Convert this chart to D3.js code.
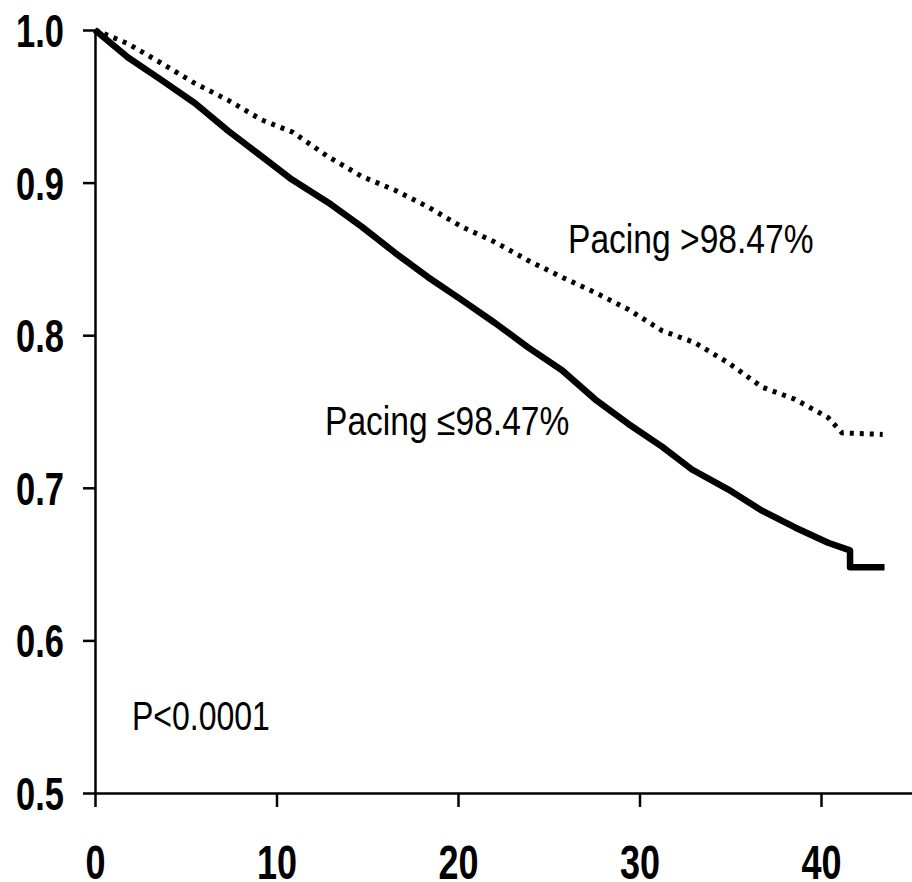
<!DOCTYPE html>
<html>
<head>
  <meta charset="utf-8">
  <title>Survival by pacing</title>
  <script src="https://d3js.org/d3.v7.min.js"></script>
  <style>
    body { margin: 0; background: #fff; }
    text { font-family: "Liberation Sans", Arial, sans-serif; fill: #000; }
  </style>
</head>
<body>
<script type="text/javascript">
  var w = 912;
  var h = 882;

  // months of follow-up (x) and survival (y)
  var lowTime = [0, 1.82, 3.69, 5.51, 7.33, 9.2, 10.85, 12.84, 14.71, 16.53, 18.35, 20.22, 22.04, 23.86, 25.73, 27.55, 29.37, 31.24, 32.89, 34.88, 36.75, 38.57, 40.39, 41.6, 41.6, 43.5];
  var lowSurv = [1.0, 0.982, 0.967, 0.952, 0.934, 0.917, 0.902, 0.887, 0.871, 0.854, 0.838, 0.823, 0.808, 0.792, 0.777, 0.758, 0.742, 0.727, 0.712, 0.699, 0.685, 0.674, 0.664, 0.659, 0.648, 0.648];

  var highTime = [0, 1.82, 3.69, 5.51, 7.33, 9.2, 10.9, 12.84, 14.71, 16.53, 18.35, 20.22, 22.04, 23.86, 25.73, 27.55, 29.37, 31.24, 33.06, 34.88, 36.75, 38.57, 40.39, 41.16, 43.4];
  var highSurv = [1.0, 0.991, 0.978, 0.965, 0.954, 0.941, 0.933, 0.917, 0.904, 0.895, 0.884, 0.871, 0.861, 0.849, 0.838, 0.828, 0.817, 0.803, 0.795, 0.782, 0.766, 0.758, 0.746, 0.736, 0.735];

  var xTicks = [0, 10, 20, 30, 40];
  var yTicks = [0.5, 0.6, 0.7, 0.8, 0.9, 1.0];

  var narrow = 0.75; // the reference font is a condensed face

  var svg = d3.select("body").append("svg")
    .attr("width", w)
    .attr("height", h);

  var x = d3.scaleLinear().domain([0, 45]).range([95, 95 + 45 * 18.15]);
  var y = d3.scaleLinear().domain([0.5, 1.0]).range([793, 30]);

  // y axis
  var yAxis = svg.append("g")
    .attr("transform", "translate(95,0)")
    .call(d3.axisLeft(y).tickValues(yTicks).tickFormat(d3.format(".1f"))
      .tickSize(12).tickSizeOuter(0).tickPadding(19));
  yAxis.selectAll("path, line").attr("stroke", "#000").attr("stroke-width", 2.5);
  yAxis.selectAll("text")
    .style("font-size", "46px").style("font-weight", "bold")
    .attr("x", -31 / narrow)
    .attr("dy", "0.36em")
    .attr("transform", "scale(" + narrow + ",1)");

  // x axis
  var xAxis = svg.append("g")
    .attr("transform", "translate(0,793)")
    .call(d3.axisBottom(x).tickValues(xTicks)
      .tickSize(14).tickSizeOuter(0).tickPadding(38));
  xAxis.selectAll("path, line").attr("stroke", "#000").attr("stroke-width", 2.5);
  xAxis.selectAll("text")
    .style("font-size", "48px").style("font-weight", "bold")
    .attr("transform", "scale(" + narrow + ",1)");

  var line = d3.line()
    .x(function(d){ return x(d[0]); })
    .y(function(d){ return y(d[1]); });

  var low = lowTime.map(function(t, i){ return [t, lowSurv[i]]; });
  var high = highTime.map(function(t, i){ return [t, highSurv[i]]; });

  // pacing > 98.47% dotted
  svg.append("path")
    .datum(high)
    .attr("d", line)
    .attr("fill", "none")
    .attr("stroke", "#000")
    .attr("stroke-width", 5)
    .attr("stroke-dasharray", "4,6");

  // pacing <= 98.47% solid
  svg.append("path")
    .datum(low)
    .attr("d", line)
    .attr("fill", "none")
    .attr("stroke", "#000")
    .attr("stroke-width", 6.5)
    .attr("stroke-linejoin", "round");

  // labels
  function label(tx, ty, s, str) {
    svg.append("text")
      .attr("transform", "translate(" + tx + "," + ty + ") scale(" + s + ",1)")
      .style("font-size", "40px")
      .text(str);
  }
  label(568, 253, 0.84, "Pacing >98.47%");
  label(325, 435, 0.84, "Pacing \u226498.47%");
  label(132, 730, 0.8, "P<0.0001");
</script>
</body>
</html>
